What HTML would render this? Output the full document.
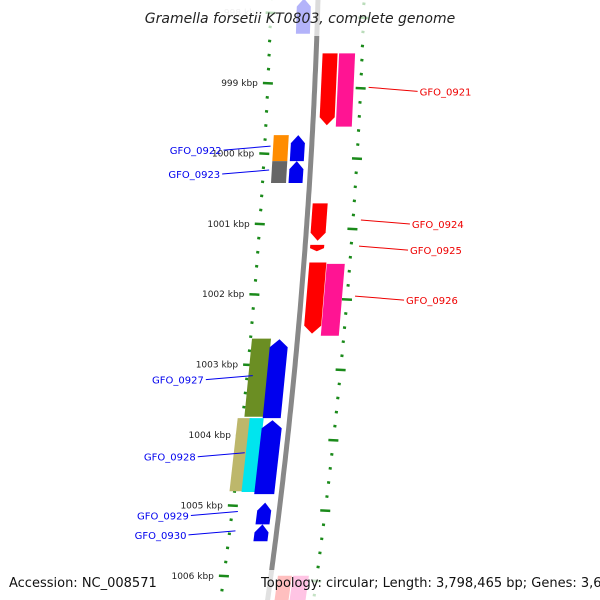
<!DOCTYPE html>
<html><head><meta charset="utf-8"><style>
html,body{margin:0;padding:0;background:#fff}
svg{display:block;font-family:"DejaVu Sans","Liberation Sans",sans-serif}
</style></head><body>
<svg id="map" width="600" height="600" viewBox="0 0 600 600">
<rect width="600" height="600" fill="#fff"/>
<path id="backbone" fill="none" stroke="#888" stroke-width="5"/>
<g id="scales"></g>
<g id="genes"></g>
<g id="labels"></g>
<text x="300" y="23" text-anchor="middle" font-style="italic" font-size="14" fill="#222">Gramella forsetii KT0803, complete genome</text>
<rect x="258" y="570" width="336" height="30" fill="#fff" fill-opacity="0.75"/>
<text x="9" y="587" font-size="13" fill="#111">Accession: NC_008571</text>
<text x="261" y="587" font-size="13" fill="#111">Topology: circular; Length: 3,798,465 bp; Genes: 3,637</text>
</svg>
<script>
const tickKbp=[998,999,1000,1001,1002,1003,1004,1005,1006];
const geneNames=["","GFO_0921","","GFO_0922","GFO_0923","","","GFO_0924","GFO_0925","GFO_0926","","GFO_0927","","GFO_0928","","","GFO_0929","GFO_0930","",""];
const geneStart=[997.8,998.58,998.58,999.74,1000.11,999.74,1000.11,1000.71,1001.3,1001.55,1001.57,1002.63,1002.64,1003.76,1003.76,1003.79,1004.96,1005.27,1006.0,1006.0];
const geneEnd=[998.3,999.6,999.62,1000.11,1000.42,1000.11,1000.42,1001.24,1001.39,1002.56,1002.59,1003.74,1003.76,1004.8,1004.81,1004.84,1005.27,1005.51,1006.5,1006.5];
const geneOffset=[-14,14,31,-31,-31,-14,-14,12,12,14,32,-36,-18,-45,-33,-17,-15,-15,14,30];
const geneColor=["#0000ee","#ff0000","#ff1493","#ff8c00","#666666","#0000ee","#0000ee","#ff0000","#ff0000","#ff0000","#ff1493","#6b8e23","#0000ee","#bdb76b","#00e5ee","#0000ee","#0000ee","#0000ee","#ff0000","#ff1493"];
const geneStrand=[1,-1,0,0,0,1,1,-1,-1,-1,0,0,1,0,0,1,1,1,-1,0];
const geneWidth=[14,15,16,15,15,14,14,15,14,17,18,19,18,14,14,20,14,14,14,16];
const labelColor=["","#ee0000","","#0000ee","#0000ee","","","#ee0000","#ee0000","#ee0000","","#0000ee","","#0000ee","","","#0000ee","#0000ee","",""];
const NS='http://www.w3.org/2000/svg';
function yOf(k){return 83+(k-999)*70.4;}
function bb(y){return 318-0.03*y-0.00009*y*y;}
const svg=document.getElementById('map');
let d='';for(let y=-5;y<=605;y+=5){d+=(y<0?'M':'L')+bb(y).toFixed(1)+','+y;}
document.getElementById('backbone').setAttribute('d',d);
function mk(tag,attrs,parent){const e=document.createElementNS(NS,tag);for(const k in attrs)e.setAttribute(k,attrs[k]);document.getElementById(parent).appendChild(e);return e;}
// scales
for(let k=997.6;k<=1006.6;k+=0.2){
  const kk=Math.round(k*10)/10;const major=Math.abs(kk-Math.round(kk))<0.01;
  const y=yOf(kk);if(y<-5||y>605)continue;
  const xl=bb(y)-47;
  const t=mk('line',{x1:xl-(major?5:1.5),x2:xl+(major?5:1.5),y1:y,y2:y+0.5,stroke:'#1a8a1a','stroke-width':2.5},'scales');
  
  
  const yr=y+5;const xr=bb(yr)+46;
  const r=mk('line',{x1:xr-(major?5:1.5),x2:xr+(major?5:1.5),y1:yr,y2:yr+0.5,stroke:'#1a8a1a','stroke-width':2.5},'scales');
  
  
}
tickKbp.forEach(k=>{const y=yOf(k);const tx=mk('text',{x:bb(y)-57,y:y+3,'text-anchor':'end','font-size':9,fill:k==998?'#ccc':'#222'},'scales');tx.textContent=k+' kbp';
  
  });
// genes
geneStart.forEach((s,i)=>{
  const y1=Math.max(yOf(s),-10),y2=Math.min(yOf(geneEnd[i]),610);const w=geneWidth[i]/2;const o=geneOffset[i];
  const c1=bb(y1)+o,c2=bb(y2)+o;const h=Math.min(8,(y2-y1)/2);
  let pts;
  if(geneStrand[i]==1){const c3=bb(y1+h)+o;pts=[[c1,y1],[c3+w,y1+h],[c2+w,y2],[c2-w,y2],[c3-w,y1+h]];}
  else if(geneStrand[i]==-1){const c3=bb(y2-h)+o;pts=[[c1-w,y1],[c1+w,y1],[c3+w,y2-h],[c2,y2],[c3-w,y2-h]];}
  else pts=[[c1-w,y1],[c1+w,y1],[c2+w,y2],[c2-w,y2]];
  const p=mk('polygon',{points:pts.map(p=>p[0].toFixed(1)+','+p[1].toFixed(1)).join(' '),fill:geneColor[i]},'genes');
  
  
  if(geneNames[i]){
    const ym=(y1+y2)/2;const right=o>0;
    const sx=right?bb(ym)+54:bb(ym)-41;const ex=right?sx+49:sx-47;
    const ln=mk('line',{x1:sx,y1:ym-2,x2:ex,y2:ym+2,stroke:labelColor[i],'stroke-width':1},'labels');
    
    
    const t=mk('text',{x:right?ex+2:ex-2,y:ym+6,'text-anchor':right?'start':'end','font-size':10,fill:labelColor[i]},'labels');
    t.textContent=geneNames[i];
    
    
  }
});
// fade top and bottom edges
mk('rect',{x:0,y:0,width:600,height:36,fill:'#fff','fill-opacity':0.7},'genes');
</script>
</body></html>
